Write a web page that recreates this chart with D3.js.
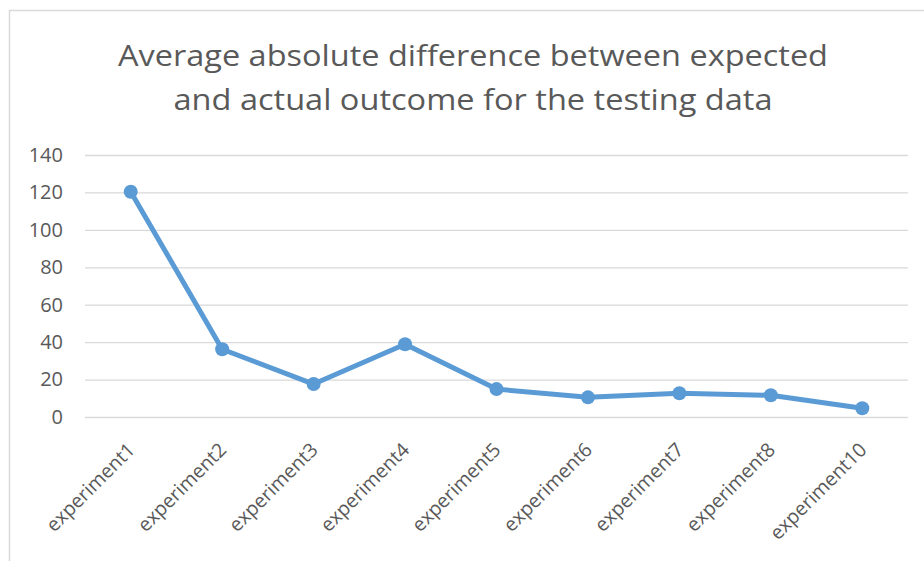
<!DOCTYPE html>
<html>
<head>
<meta charset="utf-8">
<script src="https://cdn.jsdelivr.net/npm/d3@7"></script>
<style>
  html, body { margin: 0; padding: 0; background: #fff; }
  svg { display: block; }
</style>
</head>
<body>
<svg id="chart" width="924" height="561"></svg>
<script>
const categories = ["experiment1","experiment2","experiment3","experiment4","experiment5","experiment6","experiment7","experiment8","experiment10"];
const values = [120.4, 36.2, 17.6, 38.9, 14.9, 10.5, 12.7, 11.6, 4.7];
const yTicks = [0, 20, 40, 60, 80, 100, 120, 140];
const titleLines = ["Average absolute difference between expected", "and actual outcome for the testing data"];

const svg = d3.select("#chart");
const W = 924, H = 561;
const margin = {left: 85, right: 16, top: 155, bottom: 144};
const font = "'Open Sans', 'DejaVu Sans', sans-serif";
const textColor = "#595959";

// outer chart border
svg.append("rect")
  .attr("x", 9.5).attr("y", 10.5)
  .attr("width", W + 20).attr("height", H + 20)
  .attr("fill", "#fff").attr("stroke", "#d9d9d9").attr("stroke-width", 1.5);

const x = d3.scalePoint().domain(categories).range([margin.left, W - margin.right]).padding(0.5);
const y = d3.scaleLinear().domain([0, 140]).range([H - margin.bottom, margin.top]);

// title
const titleWidths = [710, 599];
const titleBase = [66, 110];
titleLines.forEach((t, i) => {
  svg.append("text")
    .attr("x", 473).attr("y", titleBase[i])
    .attr("text-anchor", "middle")
    .attr("font-family", font).attr("font-weight", 400)
    .attr("font-size", 29).attr("fill", textColor)
    .attr("textLength", titleWidths[i]).attr("lengthAdjust", "spacingAndGlyphs")
    .text(t);
});

// gridlines + y axis
const yAxis = d3.axisLeft(y).tickValues(yTicks).tickSize(-(W - margin.right - margin.left)).tickPadding(22);
const gy = svg.append("g").attr("transform", `translate(${margin.left},0)`).call(yAxis);
gy.select(".domain").remove();
gy.selectAll(".tick line").attr("stroke", "#d9d9d9").attr("stroke-width", 1.3);
gy.selectAll(".tick text").attr("font-family", font).attr("font-size", 20).attr("fill", textColor);

// x axis labels
const xAxis = d3.axisBottom(x).tickSize(0).tickPadding(0);
const gx = svg.append("g").attr("transform", `translate(0,${H - margin.bottom})`).call(xAxis);
gx.select(".domain").remove();
gx.selectAll(".tick text")
  .attr("font-family", font).attr("font-size", 19.5).attr("fill", textColor)
  .attr("text-anchor", "end")
  .attr("dy", null).attr("y", 0)
  .attr("transform", "translate(5,34) rotate(-45)");

// line
const line = d3.line().x((d, i) => x(categories[i])).y(d => y(d));
svg.append("path").datum(values)
  .attr("d", line).attr("fill", "none")
  .attr("stroke", "#5b9bd5").attr("stroke-width", 5)
  .attr("stroke-linejoin", "round");

svg.selectAll("circle.pt").data(values).enter().append("circle")
  .attr("class", "pt")
  .attr("cx", (d, i) => x(categories[i])).attr("cy", d => y(d))
  .attr("r", 7).attr("fill", "#5b9bd5");
</script>
</body>
</html>
